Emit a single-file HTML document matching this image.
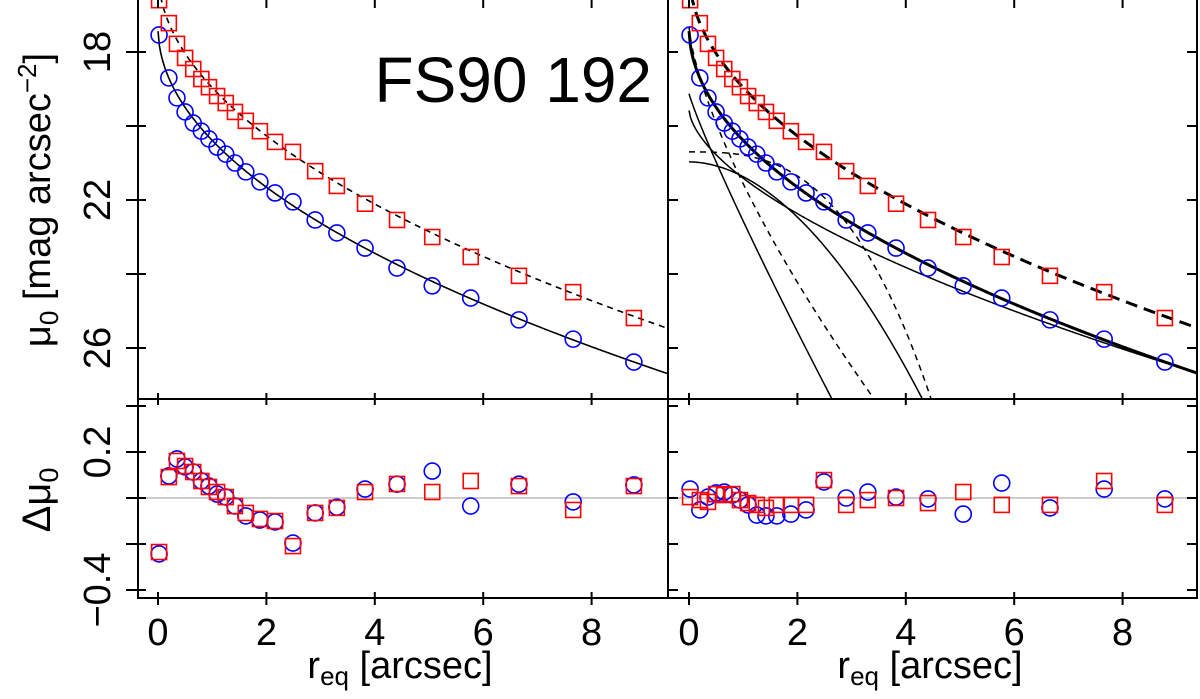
<!DOCTYPE html>
<html><head><meta charset="utf-8"><style>
html,body{margin:0;padding:0;background:#fff;overflow:hidden;}
svg{display:block;font-family:"Liberation Sans",Arial,sans-serif;}
</style></head><body>
<svg id="chart" width="1200" height="699" viewBox="0 0 1200 699" xmlns="http://www.w3.org/2000/svg">
<defs>
<clipPath id="clipTL"><rect x="138" y="0" width="530" height="399"/></clipPath>
<clipPath id="clipTR"><rect x="668" y="0" width="529" height="399"/></clipPath>
<clipPath id="clipBL"><rect x="138" y="399" width="530" height="199"/></clipPath>
<clipPath id="clipBR"><rect x="668" y="399" width="529" height="199"/></clipPath>
</defs>
<g id="root"></g>
</svg>
<script>
// ---- data ----
const radii = [0.02,0.2,0.35,0.5,0.65,0.8,0.94,1.09,1.25,1.42,1.62,1.88,2.16,2.49,2.9,3.3,3.82,4.41,5.06,5.77,6.66,7.66,8.78];
const muBlue = [17.54,18.7,19.24,19.62,19.92,20.14,20.35,20.57,20.76,21.0,21.24,21.51,21.81,22.05,22.54,22.89,23.3,23.84,24.32,24.65,25.24,25.76,26.38];
const muRed = [16.6,17.22,17.78,18.16,18.46,18.73,18.95,19.19,19.38,19.62,19.86,20.14,20.43,20.7,21.22,21.62,22.1,22.54,23.0,23.54,24.05,24.49,25.19];
const resBlueLeft = [-0.243,0.096,0.17,0.135,0.113,0.074,0.052,0.017,0.004,-0.035,-0.078,-0.096,-0.104,-0.196,-0.065,-0.04,0.039,0.06,0.117,-0.035,0.06,-0.017,0.057];
const resRedLeft = [-0.235,0.091,0.161,0.139,0.113,0.074,0.048,0.026,0.004,-0.035,-0.065,-0.091,-0.1,-0.209,-0.065,-0.043,0.026,0.061,0.026,0.074,0.052,-0.052,0.052];
const resBlueRight = [0.039,-0.052,0.004,0.022,0.026,0.013,-0.009,-0.03,-0.074,-0.078,-0.078,-0.07,-0.052,0.07,0,0.026,0.004,-0.004,-0.07,0.065,-0.043,0.039,-0.004];
const resRedRight = [0.004,-0.009,-0.017,0.017,0.013,0.017,-0.009,-0.022,-0.03,-0.043,-0.03,-0.03,-0.03,0.078,-0.03,-0.009,0,-0.022,0.026,-0.03,-0.03,0.074,-0.03];
const xTicks = [0,2,4,6,8];
const muTicks = [18,20,22,24,26];
const muTickLabels = ["18","","22","","26"];
const resTicks = [0.4,0.2,0,-0.2,-0.4];
const resTickLabels = ["","0.2","","","\u22120.4"];
// model parameters (mu = a + b * r^q)
const fitBlue = [17.34,3.05,0.5];
const fitRed = [15.81,3.15,0.5];
const compA = [19.55,1.86,0.6];
const compB = [20.97,0.4,1.9];
const compC = [20.7,0.087,2.9];
const compD = [19.12,3.45,0.9];
const compE = [17.29,4.27,0.7];

// ---- scales ----
const NS="http://www.w3.org/2000/svg";
const root=document.getElementById('root');
const xL = r => 158 + r*54.2;
const xR = r => 689 + r*54.2;
const yTop = m => 52 + (m-18)*37;
const yBot = v => 498 - v*230;
function mk(tag, attrs, parent){const e=document.createElementNS(NS,tag);for(const k in attrs)e.setAttribute(k,attrs[k]);(parent||root).appendChild(e);return e;}
function model(p,r){return p[0]+p[1]*Math.pow(r,p[2]);}
function curvePath(p,xs,r0){let d="";for(let i=0;i<=400;i++){const r=r0+(9.5-r0)*i/400;const m=model(p,r);d+=(i?"L":"M")+xs(r).toFixed(2)+","+yTop(Math.min(m,40)).toFixed(2);}return d;}

function panel(name,x0,x1,y0,y1){
  const g=mk('rect',{x:x0,y:y0,width:x1-x0,height:y1-y0,fill:'none',stroke:'#000','stroke-width':2});
  
  
}

function drawCurve(p,xs,clip,name,w,dash,r0){
  const e=mk('path',{d:curvePath(p,xs,r0||0.001),fill:'none',stroke:'#000','stroke-width':w,'clip-path':'url(#'+clip+')'});
  if(dash)e.setAttribute('stroke-dasharray',dash);
  
  
}
function circles(xs,ys,xsF,ysF,clip,name){
  const g=mk('g',{'clip-path':'url(#'+clip+')'});
  
  
  xs.forEach((r,i)=>{const c=mk('circle',{cx:xsF(r),cy:ysF(ys[i]),r:8,fill:'none',stroke:'#0000ff','stroke-width':1.6},g);
    
    });
}
function squares(xs,ys,xsF,ysF,clip,name){
  const g=mk('g',{'clip-path':'url(#'+clip+')'});
  
  
  xs.forEach((r,i)=>{const s=mk('rect',{x:xsF(r)-7.5,y:ysF(ys[i])-7.5,width:15,height:15,fill:'none',stroke:'#ff0000','stroke-width':1.6},g);
    
    });
}
function text(str,x,y,size,name,rot,anchor){
  const t=mk('text',{x:x,y:y,'font-size':size,'text-anchor':anchor||'middle',fill:'#000'});
  if(rot)t.setAttribute('transform','rotate(-90 '+x+' '+y+')');
  t.textContent=str;
  
  
  return t;
}

// zero reference lines
[[138,668],[668,1197]].forEach(([a,b])=>{const l=mk('line',{x1:a,x2:b,y1:yBot(0),y2:yBot(0),stroke:'#bbbbbb','stroke-width':1.5});
  
  });

// left top
drawCurve(fitBlue,xL,'clipTL','fit-blue-left',1.6,null);
drawCurve(fitRed,xL,'clipTL','fit-red-left',1.6,'6,5');
circles(radii,muBlue,xL,yTop,'clipTL','blue-profile-left');
squares(radii,muRed,xL,yTop,'clipTL','red-profile-left');
// right top components
drawCurve(compA,xR,'clipTR','component-outer',1.5,null);
drawCurve(compB,xR,'clipTR','component-b',1.5,null);
drawCurve(compC,xR,'clipTR','component-c-dashed',1.5,'6,5');
drawCurve(compD,xR,'clipTR','component-inner',1.5,null);
drawCurve(compE,xR,'clipTR','component-e-dashed',1.5,'6,5');
drawCurve(fitBlue,xR,'clipTR','total-fit-blue-right',3,null);
drawCurve(fitRed,xR,'clipTR','total-fit-red-right',3,'12,7');
circles(radii,muBlue,xR,yTop,'clipTR','blue-profile-right');
squares(radii,muRed,xR,yTop,'clipTR','red-profile-right');
// residuals
circles(radii,resBlueLeft,xL,yBot,'clipBL','blue-residuals-left');
squares(radii,resRedLeft,xL,yBot,'clipBL','red-residuals-left');
circles(radii,resBlueRight,xR,yBot,'clipBR','blue-residuals-right');
squares(radii,resRedRight,xR,yBot,'clipBR','red-residuals-right');

// frames
panel('panel-top-left',138,668,-1,399);
panel('panel-top-right',668,1197,-1,399);
panel('panel-bottom-left',138,668,399,598);
panel('panel-bottom-right',668,1197,399,598);

// ticks
function tick(x1,y1,x2,y2,name){const l=mk('line',{x1:x1,y1:y1,x2:x2,y2:y2,stroke:'#000','stroke-width':2});
  
  }
xTicks.forEach(v=>{
  [xL,xR].forEach(f=>{
    tick(f(v),592,f(v),605,'x-tick');
    tick(f(v),393,f(v),405,'x-tick');
    tick(f(v),0,f(v),8,'x-tick');
    text(String(v),f(v),645,38,'x-tick-label');
  });
});
muTicks.forEach((v,i)=>{
  tick(126,yTop(v),146,yTop(v),'y-tick');
  tick(668,yTop(v),678,yTop(v),'y-tick');
  tick(1187,yTop(v),1197,yTop(v),'y-tick');
  if(muTickLabels[i])text(muTickLabels[i],110,yTop(v),38,'y-tick-label',true);
});
resTicks.forEach((v,i)=>{
  tick(126,yBot(v),146,yBot(v),'y-tick');
  tick(668,yBot(v),678,yBot(v),'y-tick');
  tick(1187,yBot(v),1197,yBot(v),'y-tick');
  if(resTickLabels[i])text(resTickLabels[i],110,yBot(v),38,'y-tick-label',true);
});

// axis titles
let t=text('',50,200,38,'y-axis-title-top',true);
t.innerHTML='\u03bc<tspan font-size="26" dy="8">0</tspan><tspan dy="-8"> [mag arcsec</tspan><tspan font-size="26" dy="-14">\u22122</tspan><tspan dy="14">]</tspan>';
t=text('',50,500,40,'y-axis-title-bottom',true);
t.innerHTML='\u0394\u03bc<tspan font-size="27" dy="8">0</tspan>';
t=text('',400,678,38,'x-axis-title-left');
t.innerHTML='r<tspan font-size="26" dy="7">eq</tspan><tspan dy="-7"> [arcsec]</tspan>';
t=text('',930,678,38,'x-axis-title-right');
t.innerHTML='r<tspan font-size="26" dy="7">eq</tspan><tspan dy="-7"> [arcsec]</tspan>';
text('FS90 192',652,102,64,'galaxy-name-label',false,'end');
</script>
</body></html>
